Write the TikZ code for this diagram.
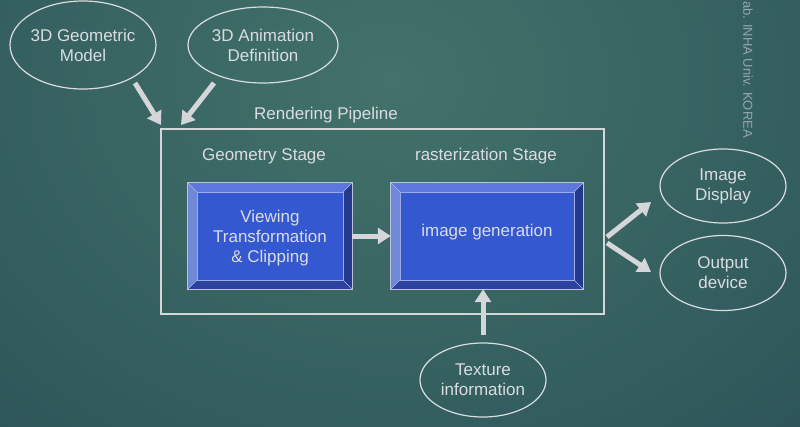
\documentclass[tikz,border=0pt]{standalone}
\usepackage{fontspec}
\setmainfont{Liberation Sans}
\usetikzlibrary{arrows.meta,shapes.geometric,calc}
\definecolor{bgin}{RGB}{66,114,106}
\definecolor{bgout}{RGB}{30,64,78}
\definecolor{fg}{RGB}{218,220,224}
\definecolor{linec}{RGB}{212,214,218}
\definecolor{face}{RGB}{52,88,208}
\definecolor{bvtop}{RGB}{92,120,220}
\definecolor{bvleft}{RGB}{112,136,216}
\definecolor{bvright}{RGB}{36,56,140}
\definecolor{bvbot}{RGB}{44,66,158}
\definecolor{credit}{RGB}{150,166,172}
\pgfdeclareradialshading{bgshade}{\pgfpoint{0bp}{0bp}}{color(0bp)=(bgin); color(50bp)=(bgout)}
\begin{document}
\begin{tikzpicture}[x=1pt,y=-1pt,
  txt/.style={text=fg,font=\fontsize{17}{20}\selectfont,align=center,inner sep=0pt},
  oval/.style={ellipse,draw=fg,line width=1.2pt,inner sep=0pt},
  pipebox/.style={rectangle,draw=linec,line width=2.2pt,inner sep=0pt},
  stagebox/.style={rectangle,fill=face,inner sep=0pt,minimum height=106pt},
  fat/.style={draw=linec,line width=5pt,-{Triangle[length=13pt,width=16pt]}}]
\useasboundingbox (0,0) rectangle (800,426);
\begin{scope}
\clip (0,0) rectangle (800,426);
\shade[shading=bgshade] (-130,-340) rectangle (910,500);
\end{scope}
% credit
\node[rotate=-90,anchor=west,text=credit,font=\fontsize{13}{15}\selectfont,inner sep=0pt] (credit) at (748,1) {ab. INHA Univ. KOREA};
% ellipses
\node[oval,minimum width=146pt,minimum height=88pt] (geo) at (83,45) {};
\node[txt] (geot) at (83,45) {3D Geometric\\Model};
\node[oval,minimum width=150pt,minimum height=76pt] (anim) at (263,45) {};
\node[txt] (animt) at (263,45) {3D Animation\\Definition};
\node[oval,minimum width=126pt,minimum height=74pt] (disp) at (723,186) {};
\node[txt] (dispt) at (723,186) {Image\\Display};
\node[oval,minimum width=126pt,minimum height=75pt] (out) at (723,273) {};
\node[txt] (outt) at (723,273) {Output\\device};
\node[oval,minimum width=126pt,minimum height=74pt] (tex) at (483,380) {};
\node[txt] (text) at (483,380) {Texture\\information};
% pipeline
\node[pipebox,minimum width=443pt,minimum height=185pt] (pipe) at (382.5,221.5) {};
\node[txt] (pipet) at (326,115) {Rendering Pipeline};
\node[txt] (geost) at (264,156) {Geometry Stage};
\node[txt] (rast) at (486,156) {rasterization Stage};
% stage boxes
\node[stagebox,minimum width=164pt] (box1) at (270,236) {};
\node[stagebox,minimum width=192pt] (box2) at (487,236) {};
\foreach \b in {box1,box2}{
  \fill[bvtop] (\b.north west) -- (\b.north east) -- ([shift={(-9,9)}]\b.north east) -- ([shift={(9,9)}]\b.north west) -- cycle;
  \fill[bvleft] (\b.north west) -- (\b.south west) -- ([shift={(9,-9)}]\b.south west) -- ([shift={(9,9)}]\b.north west) -- cycle;
  \fill[bvright] (\b.north east) -- (\b.south east) -- ([shift={(-9,-9)}]\b.south east) -- ([shift={(-9,9)}]\b.north east) -- cycle;
  \fill[bvbot] (\b.south west) -- (\b.south east) -- ([shift={(-9,-9)}]\b.south east) -- ([shift={(9,-9)}]\b.south west) -- cycle;
  \draw[bvleft!70!white,line width=0.6pt] ([shift={(9,9)}]\b.north west) rectangle ([shift={(-9,-9)}]\b.south east);
  \draw[bvleft!60!white,line width=0.5pt] (\b.north west) -- ([shift={(9,9)}]\b.north west)
     (\b.north east) -- ([shift={(-9,9)}]\b.north east)
     (\b.south west) -- ([shift={(9,-9)}]\b.south west)
     (\b.south east) -- ([shift={(-9,-9)}]\b.south east);
  \draw[linec!85!face,line width=0.8pt] (\b.north west) rectangle (\b.south east);
}
\node[txt] (box1t) at (270,238) {Viewing\\Transformation\\\& Clipping};
\node[txt] (box2t) at (487,232) {image generation};
% arrow end coordinates
\coordinate (a1s) at (135,83);
\coordinate (a1e) at (161,125);
\coordinate (a2s) at (214,83);
\coordinate (a2e) at (181,125);
\coordinate (a4s) at (607,237);
\coordinate (a4e) at (651,202);
\coordinate (a5s) at (607,243);
\coordinate (a5e) at (651,272);
\coordinate (a6s) at (483,335);
% arrows
\draw[fat] (a1s) -- (a1e);
\draw[fat] (a2s) -- (a2e);
\draw[fat] (box1.east) -- (box2.west);
\draw[fat] (a4s) -- (a4e);
\draw[fat] (a5s) -- (a5e);
\draw[fat] (a6s) -- (box2.south -| a6s);
\end{tikzpicture}
\end{document}
